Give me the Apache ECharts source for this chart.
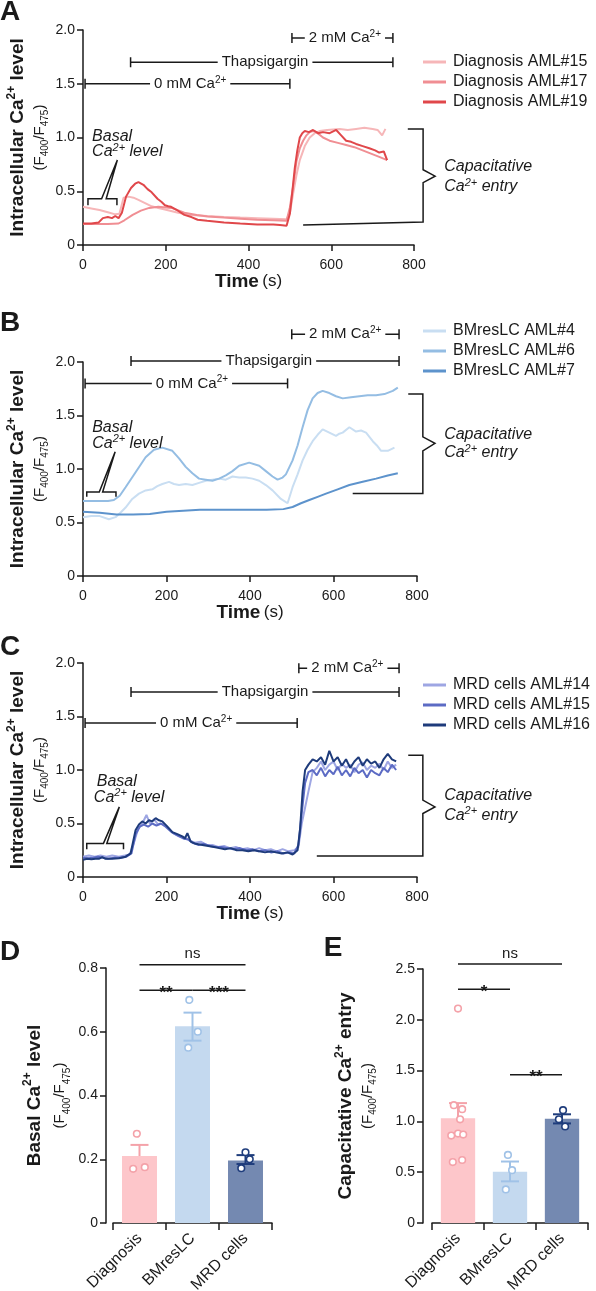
<!DOCTYPE html>
<html>
<head>
<meta charset="utf-8">
<script src="https://cdn.jsdelivr.net/npm/echarts@6/dist/echarts.min.js"></script>
<style>
html, body { margin: 0; padding: 0; background: #fff; }
#chart { width: 596px; height: 1291px; }
</style>
</head>
<body>
<div id="chart"></div>
<script>
var FONT = '"Liberation Sans", Arial, Helvetica, sans-serif';
var INK = '#1a1a1a';

// ---- traces: [time (s), F400/F475] ----
var diag15 = [[0,0.355],[20,0.34],[40,0.325],[60,0.305],[78,0.285],[88,0.29],[98,0.44],[110,0.45],[122,0.44],[134,0.42],[150,0.39],[166,0.36],[182,0.345],[198,0.33],[230,0.3],[261,0.28],[300,0.27],[341,0.26],[380,0.255],[421,0.25],[460,0.245],[492,0.24],[500,0.3],[508,0.48],[516,0.65],[524,0.79],[536,0.92],[548,1.0],[560,1.04],[572,1.06],[590,1.07],[620,1.08],[640,1.07],[660,1.08],[680,1.09],[700,1.08],[712,1.07],[723,1.02],[731,1.08]];
var diag17 = [[0,0.195],[30,0.195],[60,0.195],[86,0.2],[100,0.23],[120,0.28],[140,0.32],[160,0.345],[182,0.355],[214,0.345],[245,0.3],[275,0.28],[301,0.265],[340,0.255],[381,0.245],[420,0.235],[460,0.23],[492,0.225],[500,0.35],[508,0.55],[516,0.78],[524,0.9],[532,0.97],[540,1.02],[548,1.05],[556,1.06],[564,1.05],[580,1.0],[596,0.97],[616,0.95],[636,0.93],[656,0.91],[676,0.88],[696,0.85],[716,0.82],[735,0.79]];
var diag19 = [[0,0.2],[20,0.2],[38,0.21],[48,0.25],[60,0.26],[70,0.25],[78,0.27],[86,0.25],[94,0.3],[104,0.45],[116,0.53],[126,0.57],[134,0.585],[146,0.56],[156,0.52],[166,0.49],[180,0.43],[190,0.4],[198,0.37],[206,0.36],[213,0.355],[225,0.33],[245,0.28],[262,0.26],[277,0.235],[300,0.225],[341,0.21],[380,0.2],[421,0.19],[460,0.19],[476,0.185],[492,0.18],[500,0.29],[506,0.5],[512,0.72],[518,0.88],[524,1.0],[530,1.04],[536,1.06],[546,1.05],[556,1.07],[568,1.04],[580,1.05],[596,1.04],[612,1.07],[624,1.02],[636,0.97],[648,0.96],[660,0.94],[676,0.92],[692,0.9],[706,0.88],[716,0.86],[720,0.86],[727,0.87],[735,0.79]];

var bmres4 = [[0,0.55],[20,0.56],[40,0.56],[62,0.53],[78,0.55],[92,0.6],[102,0.64],[118,0.72],[134,0.77],[150,0.8],[166,0.81],[178,0.84],[190,0.86],[206,0.88],[218,0.86],[230,0.85],[246,0.86],[262,0.85],[278,0.87],[294,0.89],[310,0.9],[326,0.91],[342,0.9],[358,0.93],[374,0.92],[390,0.92],[406,0.91],[422,0.89],[438,0.85],[454,0.8],[474,0.72],[490,0.68],[502,0.83],[514,0.95],[526,1.08],[538,1.18],[550,1.26],[562,1.32],[574,1.37],[590,1.34],[606,1.31],[614,1.33],[622,1.34],[638,1.39],[654,1.35],[666,1.36],[678,1.34],[694,1.26],[704,1.22],[714,1.17],[730,1.17],[746,1.2]];
var bmres6 = [[0,0.7],[30,0.7],[60,0.7],[74,0.71],[88,0.75],[102,0.83],[126,0.97],[150,1.11],[170,1.18],[190,1.2],[214,1.17],[230,1.1],[246,1.02],[262,0.96],[278,0.91],[294,0.9],[310,0.89],[326,0.91],[342,0.94],[358,0.98],[374,1.03],[398,1.06],[422,1.03],[438,0.98],[454,0.93],[466,0.9],[478,0.92],[486,0.95],[502,1.08],[514,1.22],[526,1.39],[538,1.55],[550,1.66],[562,1.71],[574,1.73],[590,1.71],[606,1.68],[622,1.66],[642,1.67],[662,1.68],[682,1.69],[702,1.69],[722,1.7],[742,1.73],[754,1.76]];
var bmres7 = [[0,0.6],[40,0.59],[80,0.575],[120,0.575],[160,0.58],[200,0.6],[240,0.61],[280,0.62],[320,0.62],[360,0.62],[400,0.62],[440,0.62],[480,0.625],[502,0.645],[522,0.68],[542,0.71],[562,0.74],[582,0.77],[610,0.81],[638,0.85],[670,0.88],[702,0.91],[730,0.94],[754,0.96]];

var mrd14 = [[0,0.19],[14,0.2],[28,0.19],[42,0.2],[56,0.19],[70,0.2],[86,0.19],[100,0.2],[112,0.21],[122,0.32],[132,0.45],[142,0.5],[152,0.58],[160,0.5],[170,0.54],[180,0.49],[192,0.5],[204,0.46],[216,0.41],[230,0.38],[244,0.37],[256,0.34],[268,0.32],[282,0.33],[296,0.3],[310,0.3],[324,0.28],[338,0.29],[352,0.27],[366,0.28],[380,0.26],[394,0.27],[408,0.25],[422,0.27],[436,0.25],[450,0.26],[464,0.24],[478,0.26],[492,0.24],[506,0.25],[516,0.28],[524,0.5],[532,0.65],[540,0.8],[550,0.98],[560,1.02],[570,1.08],[580,1.0],[590,1.05],[600,1.08],[610,1.0],[620,1.06],[630,1.02],[640,1.05],[650,0.98],[660,1.05],[670,1.07],[680,1.0],[690,1.04],[700,1.02],[710,1.06],[720,1.0],[730,1.08],[740,1.02],[750,1.05]];
var mrd15 = [[0,0.18],[12,0.175],[24,0.18],[36,0.19],[48,0.18],[60,0.17],[76,0.18],[90,0.18],[104,0.19],[116,0.22],[126,0.4],[136,0.47],[146,0.49],[156,0.47],[166,0.5],[176,0.48],[186,0.5],[198,0.47],[212,0.42],[226,0.39],[240,0.36],[252,0.35],[262,0.32],[276,0.3],[290,0.31],[304,0.29],[318,0.28],[332,0.28],[346,0.27],[360,0.26],[376,0.27],[392,0.25],[406,0.26],[420,0.24],[436,0.25],[450,0.23],[466,0.24],[480,0.22],[494,0.23],[506,0.22],[516,0.3],[524,0.6],[532,0.88],[540,0.98],[550,1.0],[560,0.95],[570,1.02],[580,0.94],[590,1.0],[600,0.96],[610,1.03],[620,0.95],[630,1.0],[640,0.94],[650,1.02],[660,0.97],[670,1.0],[680,0.93],[690,1.0],[700,0.97],[710,0.95],[720,1.02],[730,0.98],[740,1.05],[750,1.0]];
var mrd16 = [[0,0.16],[10,0.17],[20,0.165],[30,0.17],[38,0.17],[46,0.185],[54,0.17],[70,0.17],[86,0.175],[102,0.19],[114,0.22],[126,0.44],[134,0.49],[142,0.52],[150,0.5],[158,0.53],[166,0.52],[174,0.55],[182,0.53],[190,0.52],[200,0.48],[214,0.42],[226,0.4],[238,0.38],[244,0.36],[250,0.41],[258,0.33],[270,0.31],[286,0.3],[300,0.29],[314,0.28],[326,0.27],[340,0.26],[354,0.27],[368,0.25],[382,0.25],[396,0.24],[410,0.25],[422,0.24],[436,0.23],[450,0.24],[462,0.23],[476,0.22],[490,0.23],[502,0.21],[514,0.25],[520,0.45],[526,0.8],[532,1.0],[540,1.05],[550,1.1],[560,1.08],[570,1.12],[580,1.05],[590,1.18],[600,1.08],[610,1.12],[620,1.04],[630,1.1],[640,1.02],[650,1.08],[660,1.12],[670,1.04],[680,1.1],[690,1.06],[700,1.08],[710,1.02],[720,1.1],[730,1.15],[740,1.1],[750,1.08]];

var namesA = ['Diagnosis AML#15', 'Diagnosis AML#17', 'Diagnosis AML#19'];
var namesB = ['BMresLC AML#4', 'BMresLC AML#6', 'BMresLC AML#7'];
var namesC = ['MRD cells AML#14', 'MRD cells AML#15', 'MRD cells AML#16'];
var colorsA = ['#f6b6b8', '#f08e93', '#e0474a'];
var colorsB = ['#c9def2', '#94bde3', '#5d93cc'];
var colorsC = ['#9ea6e3', '#5c6bc4', '#1e3b7b'];

// ---- summary bars ----
var groups = ['Diagnosis', 'BMresLC', 'MRD cells'];
var basalMean = [0.21, 0.617, 0.196];
var basalHigh = [0.245, 0.66, 0.213];
var basalLow  = [0.21, 0.572, 0.185];
var basalPts  = [[0.28, 0.17, 0.175], [0.70, 0.60, 0.55], [0.222, 0.20, 0.172]];
var basalJit  = [[-0.05, -0.12, 0.1], [-0.06, 0.1, -0.08], [0, 0.08, -0.08]];

var entryMean = [1.03, 0.505, 1.025];
var entryHigh = [1.18, 0.605, 1.07];
var entryLow  = [1.03, 0.41, 0.98];
var entryPts  = [[2.11, 1.16, 1.12, 1.02, 0.86, 0.88, 0.87, 0.60, 0.62], [0.67, 0.52, 0.33], [1.11, 1.02, 0.95]];
var entryJit  = [[0, -0.08, 0.08, 0.04, -0.13, 0, 0.1, -0.1, 0.08], [-0.04, 0.04, -0.08], [0.02, -0.06, 0.06]];

var barColors = ['#fdc6ca', '#c4d9ef', '#7489b1'];
var dotColors = ['#f4a2a9', '#a0c2e7', '#1f3d7c'];

// significance: [from cat, to cat, level, label]
var sigBasal = [[-0.03, 2.01, 0.81, 'ns'], [-0.03, 0.93, 0.73, '**'], [1.03, 2.03, 0.73, '***']];
var sigEntry = [[-0.04, 2.04, 2.55, 'ns'], [-0.04, 0.94, 2.30, '*'], [1.06, 2.04, 1.46, '**']];

// ---- annotations (data units) ----
var CA0 = '{a|0 mM Ca}{s|2+}';
var CA2 = '{a|2 mM Ca}{s|2+}';
var periodsA = [[5, 500, 1.5, 259, CA0], [115, 749, 1.70, 440, '{a|Thapsigargin}'], [505, 749, 1.925, 633, CA2]];
var periodsB = [[5, 490, 1.80, 261, CA0], [115, 757, 2.01, 445, '{a|Thapsigargin}'], [500, 757, 2.26, 628, CA2]];
var periodsC = [[5, 513, 1.44, 271, CA0], [115, 757, 1.73, 436, '{a|Thapsigargin}'], [517, 757, 1.95, 633, CA2]];

var basalA = [[12,0.37],[12,0.43],[45,0.43],[83,0.79],[56,0.43],[82,0.43],[82,0.37]];
var basalB = [[9,0.74],[9,0.785],[39,0.785],[77,1.16],[47,0.785],[79,0.785],[79,0.74]];
var basalC = [[9,0.26],[9,0.314],[49,0.314],[87,0.655],[57,0.314],[97,0.314],[97,0.26]];
var basalTextA = [[22, 1.01, '{i|Basal}'], [22, 0.865, '{i|Ca}{is|2+}{i| level}']];
var basalTextB = [[22, 1.39, '{i|Basal}'], [22, 1.24, '{i|Ca}{is|2+}{i| level}']];
var basalTextC = [[33, 0.895, '{i|Basal}'], [26, 0.745, '{i|Ca}{is|2+}{i| level}']];

var braceA = [[785,1.08],[822,1.08],[822,0.70],[851,0.64],[822,0.58],[822,0.214],[532,0.186]];
var braceB = [[779,1.70],[814,1.70],[814,1.30],[843,1.24],[814,1.17],[814,0.77],[646,0.77]];
var braceC = [[779,1.137],[814,1.137],[814,0.718],[843,0.655],[814,0.593],[814,0.196],[560,0.196]];
var braceTextA = [[873, 0.726, '{i|Capacitative}'], [873, 0.54, '{i|Ca}{is|2+}{i| entry}']];
var braceTextB = [[865, 1.32, '{i|Capacitative}'], [865, 1.15, '{i|Ca}{is|2+}{i| entry}']];
var braceTextC = [[865, 0.764, '{i|Capacitative}'], [865, 0.578, '{i|Ca}{is|2+}{i| entry}']];

var annotRich = {
    a: { fontSize: 15, fontFamily: FONT, fill: INK, color: INK, lineHeight: 18 },
    s: { fontSize: 10, fontFamily: FONT, fill: INK, color: INK, lineHeight: 12, verticalAlign: 'top' },
    i: { fontSize: 16, fontStyle: 'italic', fontFamily: FONT, fill: INK, color: INK, lineHeight: 19 },
    is: { fontSize: 11, fontStyle: 'italic', fontFamily: FONT, fill: INK, color: INK, lineHeight: 12, verticalAlign: 'top' }
};

function seg(x1, y1, x2, y2, color, w) {
    return { type: 'line', shape: { x1: x1, y1: y1, x2: x2, y2: y2 }, style: { stroke: color || INK, lineWidth: w || 1.5 } };
}

function annotRender(periods, basal, basalText, brace, braceText) {
    return function (params, api) {
        var kids = [];
        periods.forEach(function (p) {
            var a = api.coord([p[0], p[2]]), b = api.coord([p[1], p[2]]), m = api.coord([p[3], p[2]]);
            kids.push(seg(a[0], a[1], b[0], b[1]));
            kids.push(seg(a[0], a[1] - 5, a[0], a[1] + 5));
            kids.push(seg(b[0], b[1] - 5, b[0], b[1] + 5));
            kids.push({ type: 'text', x: m[0], y: m[1], style: {
                text: p[4], rich: annotRich, fill: INK,
                align: 'center', verticalAlign: 'middle', backgroundColor: '#fff', padding: [0, 4]
            } });
        });
        [basal, brace].forEach(function (pts) {
            kids.push({ type: 'polyline', shape: { points: pts.map(function (p) { return api.coord(p); }) },
                style: { stroke: INK, fill: null, lineWidth: 1.5 } });
        });
        basalText.concat(braceText).forEach(function (t) {
            var c = api.coord([t[0], t[1]]);
            kids.push({ type: 'text', x: c[0], y: c[1], style: {
                text: t[2], rich: annotRich, fill: INK, align: 'left', verticalAlign: 'middle'
            } });
        });
        return { type: 'group', children: kids };
    };
}

function errRender(mean, high, low) {
    return function (params, api) {
        var kids = [];
        for (var i = 0; i < mean.length; i++) {
            var top = api.coord([i, high[i]]), bot = api.coord([i, low[i]]);
            kids.push(seg(top[0], top[1], bot[0], bot[1], dotColors[i], 2));
            kids.push(seg(top[0] - 9, top[1], top[0] + 9, top[1], dotColors[i], 2));
            if (low[i] < mean[i]) kids.push(seg(bot[0] - 9, bot[1], bot[0] + 9, bot[1], dotColors[i], 2));
        }
        return { type: 'group', children: kids };
    };
}

function dotRender(pts, jit) {
    return function (params, api) {
        var kids = [];
        var band = api.size([1, 0])[0];
        pts.forEach(function (list, i) {
            list.forEach(function (v, k) {
                var c = api.coord([i, v]);
                kids.push({ type: 'circle', shape: { cx: c[0] + jit[i][k] * band, cy: c[1], r: 3.3 },
                    style: { fill: '#fff', stroke: dotColors[i], lineWidth: 1.6 } });
            });
        });
        return { type: 'group', children: kids };
    };
}

function sigRender(sigs) {
    return function (params, api) {
        var kids = [];
        sigs.forEach(function (s) {
            var a = api.coord([s[0], s[2]]), b = api.coord([s[1], s[2]]);
            kids.push(seg(a[0], a[1], b[0], b[1], INK, 1.5));
            var star = s[3] !== 'ns';
            kids.push({ type: 'text', x: (a[0] + b[0]) / 2, y: star ? a[1] + 3 : a[1] - 3, style: {
                text: s[3], fill: INK, fontSize: star ? 17 : 15, fontWeight: star ? 'bold' : 'normal',
                fontFamily: FONT, align: 'center', verticalAlign: star ? 'middle' : 'bottom'
            } });
        });
        return { type: 'group', children: kids };
    };
}

var axisLine = { show: true, lineStyle: { color: INK, width: 1.5 } };
var axisTick = { show: true, length: 6, lineStyle: { color: INK, width: 1.5 } };
var tickFont = { fontSize: 14, color: INK, fontFamily: FONT };
function fmt(v) { return v === 0 ? '0' : v.toFixed(1); }

function timeX(i) {
    return {
        type: 'value', gridIndex: i, min: 0, max: 800, interval: 200,
        name: '{b|Time} {n|(s)}', nameLocation: 'middle', nameGap: 27, nameMoveOverlap: false,
        nameTextStyle: { rich: {
            b: { fontSize: 19, fontWeight: 'bold', color: INK, fontFamily: FONT },
            n: { fontSize: 17, color: INK, fontFamily: FONT }
        } },
        axisLine: axisLine, axisTick: axisTick,
        axisLabel: Object.assign({ margin: 13 }, tickFont),
        splitLine: { show: false }
    };
}

function valueY(i, max, interval, title, gap, offset, lh) {
    var parts = title.split('|');
    return {
        type: 'value', gridIndex: i, min: 0, max: max, interval: interval, offset: offset || 0,
        name: '{t|' + parts[0] + '}{tp|2+}{t|' + parts[1] + '}\n{s|(F}{sb|400}{s|/F}{sb|475}{s|)}',
        nameLocation: 'middle', nameRotate: 90, nameGap: gap, nameMoveOverlap: false,
        nameTextStyle: { rich: {
            t: { fontSize: 19, fontWeight: 'bold', color: INK, fontFamily: FONT, lineHeight: lh[0] },
            tp: { fontSize: 12, fontWeight: 'bold', color: INK, fontFamily: FONT, lineHeight: 15, verticalAlign: 'top' },
            s: { fontSize: 15, color: INK, fontFamily: FONT, lineHeight: lh[1] },
            sb: { fontSize: 10, color: INK, fontFamily: FONT, lineHeight: 11, verticalAlign: 'bottom' }
        } },
        axisLine: axisLine, axisTick: axisTick,
        axisLabel: Object.assign({ margin: 8, formatter: fmt }, tickFont),
        splitLine: { show: false }
    };
}

function catX(i) {
    return {
        type: 'category', gridIndex: i, data: groups, offset: 5,
        axisLine: axisLine, axisTick: { show: true, length: 7, lineStyle: { color: INK, width: 1.5 } },
        axisLabel: { rotate: 45, fontSize: 16, color: INK, fontFamily: FONT, margin: 8, interval: 0 }
    };
}

function legend(names, top) {
    return {
        data: names, orient: 'vertical', left: 423, top: top, icon: 'rect', padding: 0,
        itemWidth: 23, itemHeight: 3, itemGap: 2, selectedMode: false,
        textStyle: { fontSize: 16, color: INK, fontFamily: FONT, lineHeight: 18, padding: [0, 0, 0, 2] }
    };
}

function traces(list, names, colors, idx) {
    return list.map(function (d, k) {
        return {
            type: 'line', name: names[k], xAxisIndex: idx, yAxisIndex: idx, data: d,
            showSymbol: false, symbol: 'none', silent: true,
            lineStyle: { color: colors[k], width: 2 }, itemStyle: { color: colors[k] }
        };
    });
}

function custom(idx, render, z) {
    return { type: 'custom', xAxisIndex: idx, yAxisIndex: idx, data: [[0, 0]], clip: false, silent: true, z: z || 5, renderItem: render };
}

var chart = echarts.init(document.getElementById('chart'), null, { renderer: 'canvas' });

var letter = function (t, x, y) {
    return { type: 'text', x: x, y: y, style: { text: t, fontSize: 28, fontWeight: 'bold', fill: INK, fontFamily: FONT, align: 'center', verticalAlign: 'middle' } };
};

var option = {
    animation: false,
    backgroundColor: '#fff',
    graphic: [letter('A', 10, 12), letter('B', 10, 323), letter('C', 10, 647), letter('D', 10, 952), letter('E', 333, 948)],
    grid: [
        { left: 83, top: 30, width: 331, height: 215, containLabel: false, outerBoundsMode: 'none' },
        { left: 83, top: 362, width: 334, height: 214, containLabel: false, outerBoundsMode: 'none' },
        { left: 83, top: 663, width: 334, height: 214, containLabel: false, outerBoundsMode: 'none' },
        { left: 113, top: 968, width: 159, height: 255, containLabel: false, outerBoundsMode: 'none' },
        { left: 432, top: 969, width: 156, height: 254, containLabel: false, outerBoundsMode: 'none' }
    ],
    legend: [legend(namesA, 53), legend(namesB, 322), legend(namesC, 676)],
    xAxis: [timeX(0), timeX(1), timeX(2), catX(3), catX(4)],
    yAxis: [
        valueY(0, 2, 0.5, 'Intracellular Ca| level', 33, 0, [24, 20]),
        valueY(1, 2, 0.5, 'Intracellular Ca| level', 33, 0, [24, 20]),
        valueY(2, 2, 0.5, 'Intracellular Ca| level', 33, 0, [24, 20]),
        valueY(3, 0.8, 0.2, 'Basal Ca| level', 34, 7, [26, 24]),
        valueY(4, 2.5, 0.5, 'Capacitative Ca| entry', 45, 9, [24, 20])
    ],
    series: []
        .concat(traces([diag15, diag17, diag19], namesA, colorsA, 0))
        .concat(traces([bmres4, bmres6, bmres7], namesB, colorsB, 1))
        .concat(traces([mrd14, mrd15, mrd16], namesC, colorsC, 2))
        .concat([
            custom(0, annotRender(periodsA, basalA, basalTextA, braceA, braceTextA)),
            custom(1, annotRender(periodsB, basalB, basalTextB, braceB, braceTextB)),
            custom(2, annotRender(periodsC, basalC, basalTextC, braceC, braceTextC)),
            {
                type: 'bar', xAxisIndex: 3, yAxisIndex: 3, barWidth: '66%', silent: true,
                data: basalMean.map(function (v, i) { return { value: v, itemStyle: { color: barColors[i] } }; })
            },
            {
                type: 'bar', xAxisIndex: 4, yAxisIndex: 4, barWidth: '66%', silent: true,
                data: entryMean.map(function (v, i) { return { value: v, itemStyle: { color: barColors[i] } }; })
            },
            custom(3, errRender(basalMean, basalHigh, basalLow), 6),
            custom(4, errRender(entryMean, entryHigh, entryLow), 6),
            custom(3, dotRender(basalPts, basalJit), 7),
            custom(4, dotRender(entryPts, entryJit), 7),
            custom(3, sigRender(sigBasal), 7),
            custom(4, sigRender(sigEntry), 7)
        ])
};

chart.setOption(option);
</script>
</body>
</html>
